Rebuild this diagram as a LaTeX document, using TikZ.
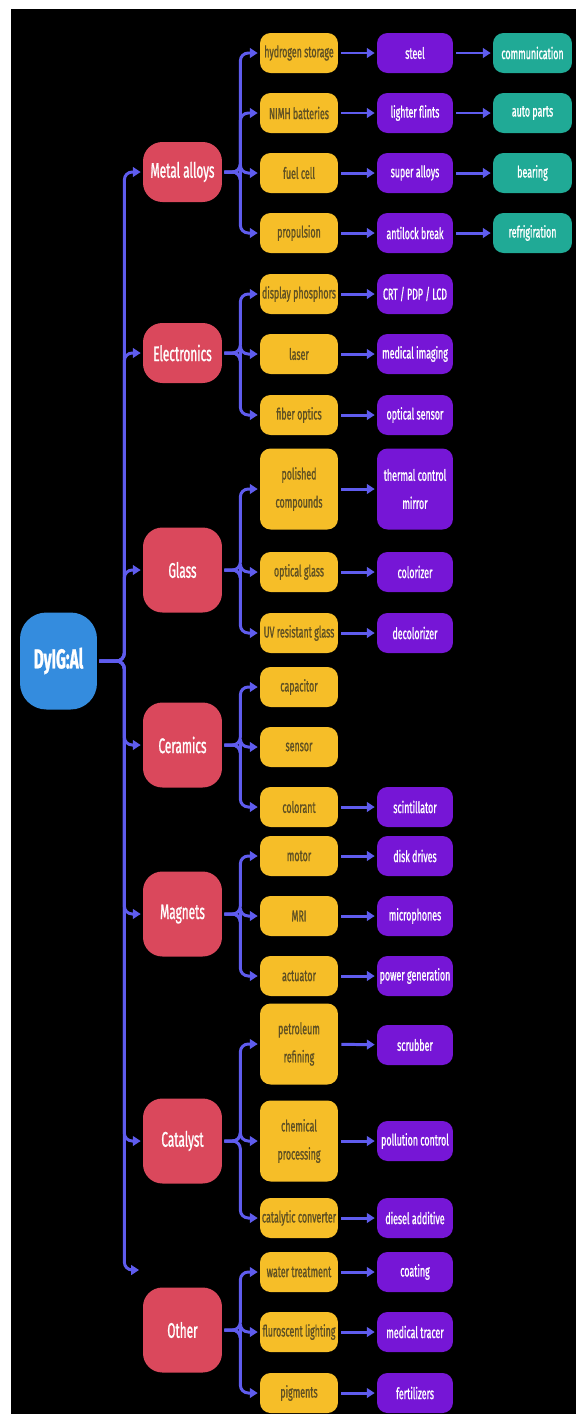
\documentclass[tikz,border=0pt]{standalone}
\usepackage{fontspec}
\setmainfont{Fira Sans}[FakeStretch=0.56,FakeBold=1]
\usetikzlibrary{arrows.meta,positioning}
\definecolor{rootblue}{RGB}{52,140,222}
\definecolor{catred}{RGB}{218,72,92}
\definecolor{useyellow}{RGB}{246,190,40}
\definecolor{prodpurple}{RGB}{118,22,214}
\definecolor{endteal}{RGB}{32,170,150}
\definecolor{linkblue}{RGB}{95,92,238}
\definecolor{usetext}{RGB}{95,80,35}
\begin{document}
\begin{tikzpicture}[x=0.02cm,y=-0.02cm] % DyIG:Al applications
\tikzstyle{rootbox} = [fill=rootblue, text=white, rounded corners=15pt, minimum width=1.54cm, minimum height=1.94cm, inner sep=0pt, font=\fontsize{15.5}{17}\selectfont\bfseries] % root node
\tikzstyle{catbox} = [fill=catred, text=white, rounded corners=11pt, minimum width=1.58cm, minimum height=1.7cm, inner sep=0pt, font=\fontsize{12}{13}\selectfont] % field of use
\tikzstyle{catlow} = [catbox, minimum height=1.2cm]
\tikzstyle{usebox} = [fill=useyellow, text=usetext, rounded corners=6pt, minimum width=1.56cm, minimum height=0.8cm, inner sep=0pt, align=center, font=\fontsize{9}{16}\selectfont] % application
\tikzstyle{tall} = [minimum height=1.62cm]
\tikzstyle{prodbox} = [usebox, fill=prodpurple, text=white, minimum width=1.52cm] % product
\tikzstyle{finbox} = [usebox, fill=endteal, text=white, minimum width=1.58cm] % end product
\tikzstyle{link} = [draw=linkblue, line width=1.7pt, rounded corners=4.5pt, -{Triangle[length=4.5pt,width=5.5pt]}, shorten >=1.1pt, shorten <=1.1pt]

\useasboundingbox (0,0) rectangle (576,1414);
\fill[black] (11,9) rectangle (576,1414);

% root and fields
\node[rootbox] (root) at (58.5,661) {DyIG:Al};
\node[catlow] (mA) at (182.5,172) {Metal alloys};
\node[catlow] (el) at (182.5,353) {Electronics};
\node[catbox] (gl) at (182.5,570) {Glass};
\node[catbox] (ce) at (182.5,745) {Ceramics};
\node[catbox] (mg) at (182.5,914) {Magnets};
\node[catbox] (ca) at (182.5,1141) {Catalyst};
\node[catbox] (ot) at (182.5,1330) {Other};
\coordinate (otin) at (141,1270);

% applications
\node[usebox] (hs) at (299,53) {hydrogen storage};
\node[usebox] (nb) at (299,113) {NIMH batteries};
\node[usebox] (fc) at (299,173) {fuel cell};
\node[usebox] (pr) at (299,233) {propulsion};
\node[usebox] (dp) at (299,294) {display phosphors};
\node[usebox] (la) at (299,354) {laser};
\node[usebox] (fo) at (299,415) {fiber optics};
\node[usebox, tall] (pc) at (299,489) {polished\\compounds};
\node[usebox] (og) at (299,572) {optical glass};
\node[usebox] (uv) at (299,633) {UV resistant glass};
\node[usebox] (cp) at (299,687) {capacitor};
\node[usebox] (se) at (299,747) {sensor};
\node[usebox] (co) at (299,807) {colorant};
\node[usebox] (mo) at (299,856) {motor};
\node[usebox] (mr) at (299,916) {MRI};
\node[usebox] (ac) at (299,976) {actuator};
\node[usebox, tall] (pe) at (299,1044) {petroleum\\refining};
\node[usebox, tall] (ch) at (299,1141) {chemical\\processing};
\node[usebox] (cc) at (299,1218) {catalytic converter};
\node[usebox] (wt) at (299,1272) {water treatment};
\node[usebox] (fl) at (299,1332) {fluroscent lighting};
\node[usebox] (pg) at (299,1393) {pigments};

% products
\node[prodbox] (st) at (415,53) {steel};
\node[prodbox] (lf) at (415,113) {lighter flints};
\node[prodbox] (sa) at (415,173) {super alloys};
\node[prodbox] (ab) at (415,233) {antilock break};
\node[prodbox] (crt) at (415,294) {CRT / PDP / LCD};
\node[prodbox] (mi) at (415,354) {medical imaging};
\node[prodbox] (os) at (415,415) {optical sensor};
\node[prodbox, tall] (tc) at (415,489) {thermal control\\mirror};
\node[prodbox] (cz) at (415,572) {colorizer};
\node[prodbox] (dc) at (415,633) {decolorizer};
\node[prodbox] (sc) at (415,807) {scintillator};
\node[prodbox] (dd) at (415,856) {disk drives};
\node[prodbox] (mc) at (415,916) {microphones};
\node[prodbox] (pw) at (415,976) {power generation};
\node[prodbox] (sb) at (415,1045) {scrubber};
\node[prodbox] (pl) at (415,1141) {pollution control};
\node[prodbox] (da) at (415,1218) {diesel additive};
\node[prodbox] (ct) at (415,1272) {coating};
\node[prodbox] (mt) at (415,1332) {medical tracer};
\node[prodbox] (fe) at (415,1393) {fertilizers};

% end products
\node[finbox] (cm) at (532.5,53) {communication};
\node[finbox] (ap) at (532.5,113) {auto parts};
\node[finbox] (be) at (532.5,173) {bearing};
\node[finbox] (rf) at (532.5,233) {refrigiration};

% connectors
\foreach \c in {mA,el,gl,ce,mg,ca}
  \draw[link] (root.east) -- ++(27,0) |- (\c);
\draw[link] (root.east) -- ++(27,0) |- (otin);
\foreach \c/\u in {mA/hs,mA/nb,mA/fc,mA/pr,el/dp,el/la,el/fo,gl/pc,gl/og,gl/uv,ce/cp,ce/se,ce/co,mg/mo,mg/mr,mg/ac,ca/pe,ca/ch,ca/cc,ot/wt,ot/fl,ot/pg}
  \draw[link] (\c.east) -- ++(18,0) |- (\u);
\foreach \a/\b in {hs/st,nb/lf,fc/sa,pr/ab,dp/crt,la/mi,fo/os,pc/tc,og/cz,uv/dc,co/sc,mo/dd,mr/mc,ac/pw,pe/sb,ch/pl,cc/da,wt/ct,fl/mt,pg/fe,st/cm,lf/ap,sa/be,ab/rf}
  \draw[link, shorten <=1.7pt] (\a) -- (\b);
\end{tikzpicture}
\end{document}
